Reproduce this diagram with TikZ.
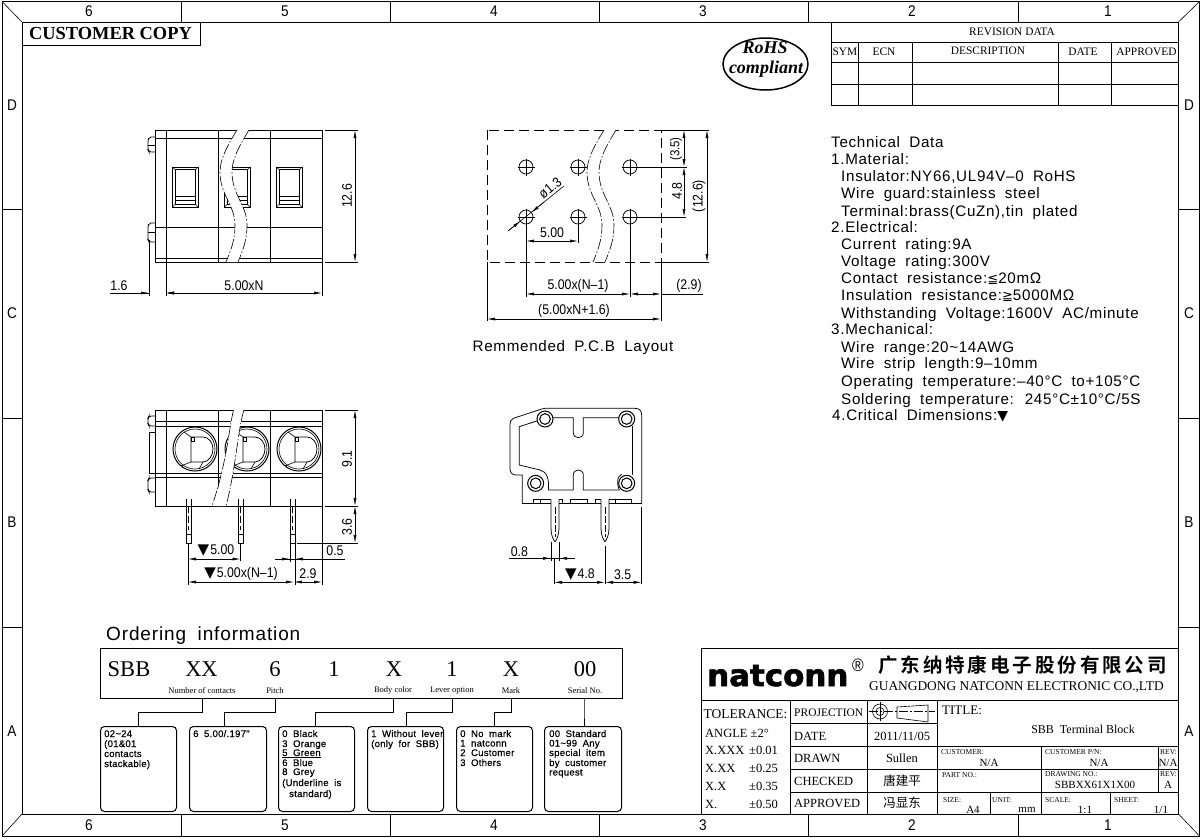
\documentclass[tikz,border=0pt]{standalone}
\usepackage{fontspec}
\usetikzlibrary{arrows.meta,calc}
\setmainfont{Liberation Serif}
\newfontfamily\cad[WordSpace=1.9,LetterSpace=4.5]{Liberation Sans}
\newfontfamily\cadn[FakeStretch=.88]{Liberation Sans}
\newfontfamily\cadb[WordSpace=1.9,LetterSpace=2.5,FakeBold=.5]{Liberation Sans}
\newfontfamily\cjk{Noto Sans CJK SC}
\newfontfamily\cjkb[LetterSpace=15]{Noto Sans CJK SC Bold}
\newfontfamily\dvfont{DejaVu Sans}
\newfontfamily\dvbold[FakeBold=2]{DejaVu Sans Bold}
\newcommand{\tri}{{\dvfont\fontsize{15}{15}\selectfont ▼}}
\tikzset{
  frame/.style={line width=1pt,draw=black},
  part/.style={line width=.75pt,draw=black},
  dimline/.style={line width=.6pt,draw=black},
  dimarr/.style={line width=.6pt,draw=black,{Latex[length=8pt,width=3pt]}-{Latex[length=8pt,width=3pt]}},
  inarr/.style={line width=.6pt,draw=black,-{Latex[length=8pt,width=3pt]}},
  brk/.style={line width=.6pt,draw=black,dash pattern=on 11pt off 2pt on 1.5pt off 2pt},
  cadt/.style={font=\cad\fontsize{#1}{#1}\selectfont,inner sep=0pt},
  dimt/.style={font=\cadn\fontsize{#1}{#1}\selectfont,inner sep=0pt},
  boxt/.style={font=\cadb\fontsize{#1}{#1}\selectfont,inner sep=0pt},
  ser/.style={font=\fontsize{#1}{#1}\selectfont,inner sep=0pt},
  obox/.style={draw=black,line width=1pt,rounded corners=4pt,inner sep=0pt,anchor=north west,minimum height=85pt},
}
\newcommand{\sbreak}[1]{%
  \begin{scope}[xshift=#1pt]
  \fill[white] (237,130) .. controls (226,148) and (220,160) .. (220,172) .. controls (220,195) and (235,205) .. (235,225) .. controls (235,240) and (231,250) .. (226,262) -- (238,262) .. controls (243,250) and (247,240) .. (247,225) .. controls (247,205) and (232,195) .. (232,172) .. controls (232,160) and (238,148) .. (249,130) -- cycle;
  \draw[brk] (237,130) .. controls (226,148) and (220,160) .. (220,172) .. controls (220,195) and (235,205) .. (235,225) .. controls (235,240) and (231,250) .. (226,262);
  \draw[brk] (249,130) .. controls (238,148) and (232,160) .. (232,172) .. controls (232,195) and (247,205) .. (247,225) .. controls (247,240) and (243,250) .. (238,262);
  \end{scope}}
\begin{document}
\begin{tikzpicture}[x=1pt,y=-1pt]
\useasboundingbox (0,0) rectangle (1202,838);
\fill[white] (0,0) rectangle (1202,838);
% frames
\draw[frame] (2,1.5) rectangle (1199.5,836);
\draw[frame] (22,22) rectangle (1178.5,814);
\draw[dimline] (2,1.5) -- (22,22) (1199.5,1.5) -- (1178.5,22) (2,836) -- (22,814) (1199.5,836) -- (1178.5,814);
\foreach \x in {181,390,599,808,1018} {
  \draw[dimline] (\x,1.5) -- (\x,22);
  \draw[dimline] (\x,814) -- (\x,836);
}
\foreach \y in {209,418,627} {
  \draw[dimline] (2,\y) -- (22,\y);
  \draw[dimline] (1178.5,\y) -- (1199.5,\y);
}
\foreach \x/\t in {89/6,285/5,494/4,703/3,912/2,1108/1} {
  \node[dimt=15.5] (zt\t) at (\x,11.5) {\t};
  \node[dimt=15.5] (zb\t) at (\x,825) {\t};
}
\foreach \y/\t in {105/D,313/C,522/B,731/A} {
  \node[dimt=15.5] (zl\t) at (12,\y) {\t};
  \node[dimt=15.5] (zr\t) at (1189,\y) {\t};
}
% customer copy
\draw[frame] (22,22) rectangle (200,45.5);
\node[font=\bfseries\fontsize{18.4}{18.4}\selectfont,inner sep=0pt] (cc) at (110.5,33) {CUSTOMER COPY};
% RoHS
\draw[line width=1.5pt] (765.5,64) ellipse [x radius=42.5,y radius=26];
\node[font=\bfseries\itshape\fontsize{18}{18}\selectfont,inner sep=0pt] (rohs1) at (765,48) {RoHS};
\node[font=\bfseries\itshape\fontsize{18}{18}\selectfont,inner sep=0pt] (rohs2) at (766,69) {compliant};
% revision table
\draw[frame] (831,22) -- (831,105) -- (1178.5,105);
\foreach \y in {42,62,84} \draw[frame] (831,\y) -- (1178.5,\y);
\foreach \x in {858,912,1058,1111} \draw[frame] (\x,42) -- (\x,105);
\node[ser=11.4] (revd) at (1012,32) {REVISION DATA};
\node[ser=11.4] (rsym) at (845,52) {SYM};
\node[ser=11.4] (recn) at (884,52) {ECN};
\node[ser=11.4] (rdes) at (988,51) {DESCRIPTION};
\node[ser=11.4] (rdat) at (1083,52) {DATE};
\node[ser=11.4] (rapp) at (1146.5,52) {APPROVED};
% technical data
\foreach \x/\y/\t/\n in {
 831/147/{Technical Data}/a,
 831/164/{1.Material:}/b,
 841/181/{Insulator:NY66,UL94V–0 RoHS}/c,
 841/198/{Wire guard:stainless steel}/d,
 841/216/{Terminal:brass(CuZn),tin plated}/e,
 831/232/{2.Electrical:}/f,
 841/249/{Current rating:9A}/g,
 841/266/{Voltage rating:300V}/h,
 841/283/{Contact resistance:{\dvfont\fontsize{13}{13}\selectfont ≦}20mΩ}/i,
 841/300/{Insulation resistance:{\dvfont\fontsize{13}{13}\selectfont ≧}5000MΩ}/j,
 841/318/{Withstanding Voltage:1600V AC/minute}/k,
 831/334/{3.Mechanical:}/l,
 841/352/{Wire range:20\textasciitilde14AWG}/m,
 841/368/{Wire strip length:9–10mm}/n,
 841/386/{Operating temperature:–40\textdegree C to+105\textdegree C}/o,
 841/404/{Soldering temperature: 245\textdegree C\textpm10\textdegree C/5S}/p,
 832/420/{4.Critical Dimensions:{\dvfont\fontsize{14}{14}\selectfont ▼}}/q} {
  \node[cadt=15.2,anchor=base west] (td\n) at (\x,\y) {\t};
}
% ---------- top left view
\draw[part] (155,130) rectangle (322,262);
\draw[part] (155,138) -- (322,138) (155,227) -- (322,227) (155,258) -- (322,258);
\draw[part] (166,130) -- (166,262) (218,130) -- (218,262) (270,130) -- (270,262);
\draw[part,rounded corners=2pt] (155,137) -- (149,137) -- (148,140) -- (148,150) -- (149,152) -- (155,152);
\draw[part,rounded corners=2pt] (155,223) -- (149,223) -- (148,226) -- (148,240) -- (149,242) -- (155,242);
\draw[part] (148,145) -- (155,145) (148,232) -- (155,232);
\foreach \wx in {172.5,224.5,276.5} {
  \draw[line width=1pt] (\wx,167) rectangle ++(25.5,40);
  \draw[dimline] (\wx+2.5,169.5) rectangle ++(20.5,35);
  \draw[dimline] (\wx,167) -- ++(2.5,2.5) (\wx+25.5,167) -- ++(-2.5,2.5) (\wx,207) -- ++(2.5,-2.5) (\wx+25.5,207) -- ++(-2.5,-2.5);
  \draw[dimline] (\wx+2.5,196) -- ++(20.5,0) (\wx+2.5,200) -- ++(20.5,0);
}
\sbreak{0}
\draw[dimline] (325,130) -- (358,130) (325,262) -- (358,262);
\draw[dimarr] (355,130) -- (355,262);
\node[dimt=14,rotate=90] (d126) at (347,196) {12.6};
\draw[dimline] (166,262) -- (166,296) (322,262) -- (322,296) (149,240) -- (149,296);
\draw[dimarr] (166,293) -- (322,293);
\draw[dimline] (110,293) -- (149,293);
\draw[inarr] (135,293) -- (149,293);
\draw[inarr] (180,293) -- (166,293);
\node[dimt=14] (d500n) at (244,286) {5.00xN};
\node[dimt=14] (d16) at (119,286) {1.6};
% ---------- PCB view
\draw[part,dash pattern=on 10pt off 5pt] (487,130) rectangle (661,262);
\sbreak{367}
\foreach \hx/\hy in {526/167,578/167,630/167,526/217,578/217,630/217} {
  \draw[part] (\hx,\hy) circle [radius=7];
  \draw[dimline] (\hx-8.5,\hy) -- (\hx+8.5,\hy) (\hx,\hy-8.5) -- (\hx,\hy+8.5);
}
\draw[dimline] (630,167) -- (687,167) (630,217) -- (686,217) (661,130) -- (709,130) (661,262) -- (709,262);
\draw[dimarr] (684,130) -- (684,167);
\draw[dimarr] (684,167) -- (684,217);
\draw[dimarr] (707,130) -- (707,262);
\node[dimt=13,rotate=90] (p35) at (676,149) {(3.5)};
\node[dimt=14,rotate=90] (p48) at (677,191) {4.8};
\node[dimt=14,rotate=90] (p126) at (699,196) {(12.6)};
\draw[dimline] (508,231) -- (564,186);
\draw[inarr] (508,231) -- (520.5,221);
\draw[inarr] (544,202) -- (531.5,212.5);
\node[dimt=14,rotate=39] (pd13) at (550,188) {ø1.3};
\draw[dimarr] (526,241) -- (578,241);
\draw[dimline] (526,225) -- (526,297) (578,225) -- (578,243) (630,225) -- (630,297);
\draw[dimline] (661,262) -- (661,321) (487,262) -- (487,321);
\draw[dimarr] (526,294) -- (630,294);
\draw[dimarr] (630,294) -- (661,294);
\draw[dimline] (661,294) -- (703,294);
\draw[dimarr] (487,319) -- (661,319);
\node[dimt=14] (p500) at (552,233) {5.00};
\node[dimt=14] (p500n) at (578,286) {5.00x(N–1)};
\node[dimt=14] (p29) at (689,286) {(2.9)};
\node[dimt=14] (p500n2) at (574,311) {(5.00xN+1.6)};
\node[cadt=15.2] (rem) at (573,348) {Remmended P.C.B Layout};
% ---------- bottom left view
\draw[part] (155,410) rectangle (322,506);
\draw[part] (155,421) -- (322,421) (155,426) -- (322,426) (155,473) -- (322,473) (155,477) -- (322,477);
\foreach \vx in {166,218,270} \draw[part] (\vx,410) -- (\vx,506);
\draw[part,rounded corners=2pt] (155,416) -- (149,416) -- (148,418) -- (148,424) -- (149,426) -- (155,426);
\draw[part,rounded corners=2pt] (155,478) -- (149,478) -- (148,480) -- (148,490) -- (149,492) -- (155,492);
\draw[part] (155,432) -- (149,432) -- (149,473) -- (155,473);
\foreach \cx in {195,247,299} {
  \fill[white] (\cx,449) circle [radius=22];
  \draw[line width=1pt] (\cx,449) circle [radius=22];
  \draw[dimline] (\cx,449) circle [radius=20];
  \draw[part] (\cx-4,437) -- (\cx+8,437) .. controls (\cx+14,437) and (\cx+18,443) .. (\cx+18,449) .. controls (\cx+18,455) and (\cx+14,462) .. (\cx+8,462) -- (\cx-4,462) -- cycle;
  \draw[dimline] (\cx-11,432) -- (\cx-4,437) (\cx-4,462) -- (\cx-14,466) (\cx+8,462) -- (\cx+4,469);
  \draw[dimline] (\cx-4,437) rectangle ++(3,4);
}
\fill[white] (233,410) .. controls (229,428) and (227,462) .. (213,506) -- (226,506) .. controls (236,468) and (238,428) .. (244,410) -- cycle;
\draw[brk] (233.5,410) .. controls (229,428) and (227,462) .. (212,506);
\draw[brk] (244,410) .. controls (238,428) and (236,468) .. (226,506);
\foreach \px in {188.5,240.5,292.5} {
  \draw[part] (\px-2.5,499) -- (\px-2.5,543) -- (\px+2.5,543) -- (\px+2.5,506);
  \draw[dimline] (\px+2.5,499) -- (\px+2.5,506);
  \draw[dimline] (\px-2.5,534) -- (\px+2.5,534);
  \draw[dimline,dash pattern=on 7pt off 3pt] (\px,506) -- (\px,530);
}
\draw[dimline] (325,410) -- (358,410) (325,506) -- (358,506) (297,543) -- (358,543);
\draw[dimarr] (355,410) -- (355,506);
\draw[dimarr] (355,506) -- (355,543);
\node[dimt=14,rotate=90] (b91) at (347,459) {9.1};
\node[dimt=14,rotate=90] (b36) at (347,527) {3.6};
\draw[dimline] (188,543) -- (188,585) (240.5,543) -- (240.5,561) (290,543) -- (290,562) (295,543) -- (295,585) (322,506) -- (322,585);
\draw[dimarr] (188,559) -- (240.5,559);
\draw[dimline] (275,559) -- (345,559);
\draw[inarr] (277,559) -- (290,559);
\draw[inarr] (309,559) -- (295,559);
\draw[dimarr] (188,582) -- (294,582);
\draw[dimarr] (294,582) -- (322,582);
\node[dimt=14,anchor=center] (b500) at (216,551) {\tri\kern1pt5.00};
\node[dimt=14] (b05) at (335,551) {0.5};
\node[dimt=14] (b500n) at (241,574) {\tri\kern1pt5.00x(N–1)};
\node[dimt=14] (b29) at (308,574) {2.9};
% ---------- side view (zoom coordinates)
\begin{scope}[shift={(490,395)},x=.33333pt,y=-.33333pt]
\draw[part] (97,325) -- (97,240) -- (78,240) .. controls (66,240) and (60,232) .. (60,222) -- (60,88) .. controls (60,80) and (63,73) .. (70,70) -- (155,42) .. controls (160,40) and (162,40) .. (165,40) -- (435,40) .. controls (448,40) and (455,47) .. (455,60) -- (455,325);
\draw[part] (97,325) -- (183,325) (207,325) -- (333,325) (357,325) -- (455,325);
\draw[part] (130,325) -- (130,313) -- (152,313) -- (152,325);
\draw[part] (207,313) -- (218,313) -- (218,325) (240,325) -- (240,313) -- (292,313) -- (292,325);
\draw[part] (315,325) -- (315,313) -- (333,313);
\draw[part] (357,313) -- (375,313) -- (375,325) (375,313) -- (425,313) -- (425,325);
\draw[part] (183,313) -- (152,313);
\draw[part] (140,78) -- (88,95) -- (88,210) -- (150,225) .. controls (170,230) and (178,250) .. (175,285);
\draw[part] (185,68) -- (250,68) -- (250,113) .. controls (250,133) and (280,133) .. (280,113) -- (280,68) -- (390,68);
\draw[part] (175,285) -- (250,285) -- (250,240) .. controls (250,220) and (280,220) .. (280,240) -- (280,285) -- (388,285);
\draw[part] (425,93) -- (427,93) -- (427,240);
\draw[part] (388,285) .. controls (378,260) and (382,245) .. (395,238);
\foreach \qx/\qy in {165/72,410/72,137/265,410/265} {
  \fill[white] (\qx,\qy) circle [radius=24];
  \draw[line width=1pt] (\qx,\qy) circle [radius=24];
  \draw[line width=1pt] (\qx,\qy) circle [radius=16];
}
\foreach \ppx in {195,345} {
  \draw[part] (\ppx-12,313) -- (\ppx-12,400) .. controls (\ppx-12,420) and (\ppx-5,435) .. (\ppx,440) .. controls (\ppx+5,435) and (\ppx+12,420) .. (\ppx+12,400) -- (\ppx+12,313);
  \draw[dimline,dash pattern=on 7pt off 2pt] (\ppx,335) -- (\ppx,425);
}
\draw[dimline] (58,490) -- (255,490);
\draw[dimline] (183,440) -- (183,497) (207,440) -- (207,497);
\draw[inarr] (150,490) -- (183,490);
\draw[inarr] (238,490) -- (207,490);
\draw[dimline] (192,490) -- (192,567) (345,452) -- (345,567) (455,335) -- (455,567);
\draw[dimarr] (192,562) -- (345,562);
\draw[dimarr] (345,562) -- (455,562);
\node[dimt=14] (s08) at (88,470) {0.8};
\node[dimt=14] (s48) at (270,540) {\tri\kern1pt4.8};
\node[dimt=14] (s35) at (398,540) {3.5};
\end{scope}
% ---------- ordering information
\node[cadt=19,anchor=base west] (oi) at (106,640) {Ordering information};
\draw[frame] (100,648) rectangle (622,698.5);
\node[ser=22.5] (oa) at (129,669) {SBB};
\node[ser=22.5] (ob) at (201.5,669) {XX};
\node[ser=22.5] (oc) at (275,669) {6};
\node[ser=22.5] (od) at (334,669) {1};
\node[ser=22.5] (oe) at (394,669) {X};
\node[ser=22.5] (of) at (452,669) {1};
\node[ser=22.5] (og) at (511,669) {X};
\node[ser=22.5] (oh) at (585,669) {00};
\node[ser=8.5] (ola) at (202,690.5) {Number of contacts};
\node[ser=8.5] (olb) at (275,690.5) {Pitch};
\node[ser=8.5] (olc) at (393,690.5) {Body color};
\node[ser=8.5] (old) at (452,690.5) {Lever option};
\node[ser=8.5] (ole) at (511,691) {Mark};
\node[ser=8.5] (olf) at (585,691) {Serial No.};
\node[obox,minimum width=76pt] (ob1) at (100,726) {};
\node[obox,minimum width=77pt] (ob2) at (189,726) {};
\node[obox,minimum width=76pt] (ob3) at (278,726) {};
\node[obox,minimum width=76pt] (ob4) at (367,726) {};
\node[obox,minimum width=76pt] (ob5) at (456,726) {};
\node[obox,minimum width=77pt] (ob6) at (544,726) {};
\foreach \n/\cxx/\exx in {1/202/138,2/275/224,3/393/315,4/452/406,5/511/494,6/584/584} {
  \coordinate (cs\n) at (\cxx,698.5);
  \coordinate (ce\n) at (\exx,726);
  \draw[line width=1pt] (cs\n) -- ++(0,13.5) -| (ce\n);
}
\foreach \x/\y/\t/\n in {
 104/737/{02\textasciitilde24}/a, 104/747/{(01\&01}/b, 104/757/{contacts}/c, 104/767/{stackable)}/d,
 193/737/{6 5.00/.197"}/e,
 282/737/{0 Black}/f, 282/747/{3 Orange}/g, 282/756/{\underline{5 Green}}/h, 282/766/{6 Blue}/i, 282/775/{8 Grey}/j, 282/786/{(Underline is}/k, 289/797/{standard)}/l,
 371/737/{1 Without lever}/m, 371/747/{(only for SBB)}/n,
 460/737/{0 No mark}/o, 460/746.5/{1 natconn}/p, 460/756/{2 Customer}/q, 460/766/{3 Others}/r,
 549/737/{00 Standard}/s, 549/746.5/{01\textasciitilde99 Any}/t, 549/756/{special item}/u, 549/766/{by customer}/v, 549/775.5/{request}/w} {
  \node[boxt=9.6,anchor=base west] (ot\n) at (\x,\y) {\t};
}
% ---------- title block
\draw[frame] (701,814) -- (701,648) -- (1178.5,648);
\draw[frame] (701,700) -- (1178.5,700);
\draw[frame] (790,700) -- (790,814) (867,700) -- (867,814) (937,700) -- (937,814);
\draw[frame] (790,723) -- (937,723) (790,746) -- (1178.5,746) (790,769) -- (1178.5,769) (790,792) -- (1178.5,792);
\draw[frame] (1041,746) -- (1041,814) (1158,746) -- (1158,792) (990,792) -- (990,814) (1110,792) -- (1110,814);
\draw[dimline] (880,711.5) circle [radius=7.5] (880,711.5) circle [radius=4];
\draw[dimline] (880,702) -- (880,721);
\draw[dimline] (897,707) -- (928,705) -- (928,722) -- (897,718) -- cycle;
\draw[dimline,dash pattern=on 9pt off 2pt on 2pt off 2pt] (869,711.5) -- (935,711.5);
\node[font=\dvbold\fontsize{30}{30}\selectfont,inner sep=0pt,anchor=base west,xscale=1.03,transform shape] (logo) at (707,686) {natconn};
\node[dimt=18] (reg) at (858,665) {®};
\node[font=\cjkb\fontsize{19.5}{19.5}\selectfont,inner sep=0pt] (cn) at (1022.5,665) {广东纳特康电子股份有限公司};
\node[ser=13.4] (en) at (1016.5,687) {GUANGDONG NATCONN ELECTRONIC CO.,LTD};
\node[ser=13.5,anchor=west] (tol) at (703.5,714) {TOLERANCE:};
\node[ser=12.5,anchor=west] (ta) at (705,733) {ANGLE \textpm2\textdegree};
\foreach \y/\a/\b/\n in {750/X.XXX/0.01/p,768/X.XX/0.25/q,786/X.X/0.35/r,804/X./0.50/s} {
  \node[ser=12.5,anchor=west] (tl\n) at (705,\y) {\a};
  \node[ser=12.5,anchor=west] (tv\n) at (749,\y) {\textpm\b};
}
\node[ser=11.5,anchor=west] (pj) at (794,713) {PROJECTION};
\node[ser=12.5,anchor=west] (dt) at (794,736) {DATE};
\node[ser=12.5,anchor=west] (dr) at (794,758) {DRAWN};
\node[ser=12.5,anchor=west] (ck) at (794,781) {CHECKED};
\node[ser=12.5,anchor=west] (ap) at (794,803) {APPROVED};
\node[ser=12.5] (vdt) at (902,736) {2011/11/05};
\node[ser=12.5] (vdr) at (902,758) {Sullen};
\node[font=\cjk\fontsize{12.5}{12.5}\selectfont,inner sep=0pt] (vck) at (902,781) {唐建平};
\node[font=\cjk\fontsize{12.5}{12.5}\selectfont,inner sep=0pt] (vap) at (902,803) {冯显东};
\node[ser=13,anchor=west] (ttl) at (942,710) {TITLE:};
\node[ser=12] (sbb) at (1083,729) {SBB\ \ Terminal Block};
\foreach \x/\y/\t/\n in {941/752/{CUSTOMER:}/a,1045/752/{CUSTOMER P/N:}/b,1160/752/{REV:}/c,942/775/{PART NO.:}/d,1045/774.5/{DRAWING NO.:}/e,1160/774/{REV:}/f,943/800/{SIZE:}/g,992/800/{UNIT:}/h,1045/800/{SCALE:}/i,1114/800/{SHEET:}/j} {
  \node[ser=7.5,anchor=west] (tc\n) at (\x,\y) {\t};
}
\node[ser=11] (v1) at (989,762.5) {N/A};
\node[ser=11] (v2) at (1099,762.5) {N/A};
\node[ser=11] (v3) at (1168,762.5) {N/A};
\node[ser=11] (v4) at (1095,785) {SBBXX61X1X00};
\node[ser=11] (v5) at (1168,785) {A};
\node[ser=11] (v6) at (973,810) {A4};
\node[ser=11] (v7) at (1027,810) {mm};
\node[ser=11] (v8) at (1085,810) {1:1};
\node[ser=11] (v9) at (1161,810) {1/1};
\end{tikzpicture}
\end{document}
